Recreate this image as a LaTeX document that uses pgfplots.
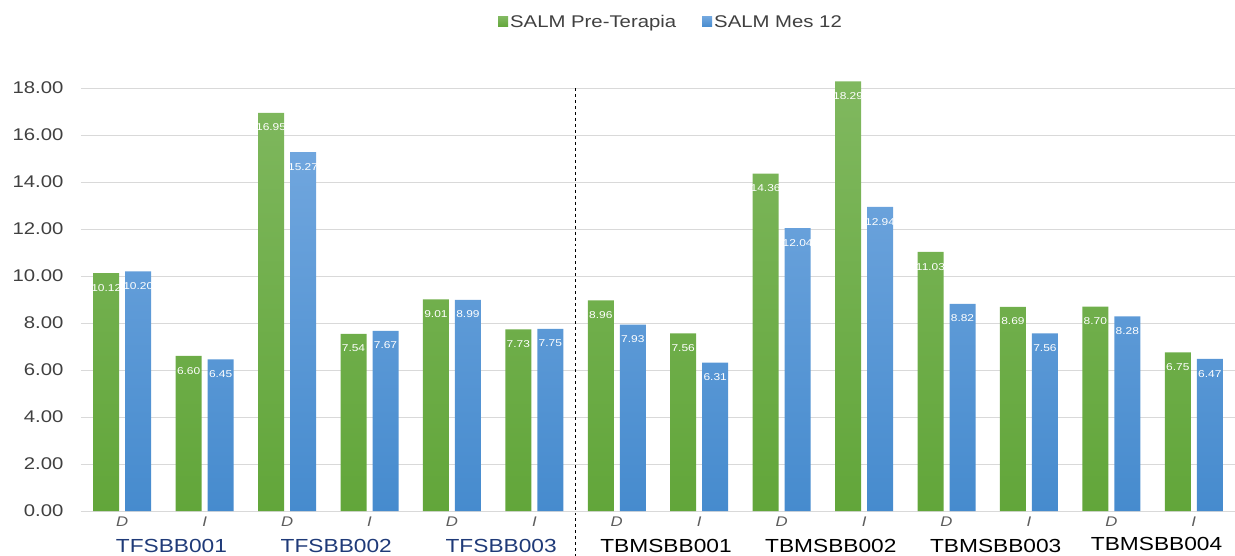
\documentclass[border=0pt]{standalone}
\usepackage{pgfplots}
\pgfplotsset{compat=1.18}
\usepackage{fontspec}
\setmainfont[FakeStretch=1.2]{Liberation Sans}
\definecolor{gTop}{HTML}{80B85F}
\definecolor{gBot}{HTML}{62A63A}
\definecolor{bTop}{HTML}{70A6DE}
\definecolor{bBot}{HTML}{468BCE}
\definecolor{gridc}{HTML}{D9D9D9}
\definecolor{tickc}{HTML}{404040}
\definecolor{navy}{HTML}{1F3A78}

\begin{document}
\begin{tikzpicture}
\begin{axis}[
  scale only axis,
  width=1154bp, height=437bp,
  ybar=6bp, bar width=26bp,
  ymin=0, ymax=18.6,
  xmin=-0.5, xmax=13.5,
  ytick={0,2,...,18},
  ymajorgrids,
  major grid style={gridc, line width=1bp},
  axis line style={draw=none},
  major tick length=0pt,
  clip=false,
  xtick=data,
  xticklabels={D,I,D,I,D,I,D,I,D,I,D,I,D,I},
  xticklabel style={font=\fontsize{14}{16}\selectfont\itshape, text=tickc!85, yshift=-2bp},
  yticklabel style={font=\fontsize{17}{20}\selectfont, text=tickc, xshift=-14bp},
  /pgf/number format/assume math mode=true,
  yticklabel={\pgfmathprintnumber[fixed,zerofill,precision=2]{\tick}},
  nodes near coords={\pgfmathprintnumber[fixed,zerofill,precision=2,assume math mode=true]{\pgfplotspointmeta}},
  every node near coord/.append style={anchor=north, yshift=-10bp, text=white, font=\fontsize{10}{11}\selectfont, inner sep=1bp},
  legend columns=2,
  legend style={draw=none, at={(0.5,1)}, anchor=center, yshift=52bp, xshift=13bp,
    font=\fontsize{17}{20}\selectfont, text=tickc,
    /tikz/every even column/.append style={column sep=24bp}},
  legend image code/.code={\fill[#1] (-3bp,-5bp) rectangle (7bp,5bp);},
]
\addplot[draw=none, top color=gTop, bottom color=gBot] coordinates {
  (0,10.12) (1,6.60) (2,16.95) (3,7.54) (4,9.01) (5,7.73) (6,8.96)
  (7,7.56) (8,14.36) (9,18.29) (10,11.03) (11,8.69) (12,8.70) (13,6.75)};
\addplot[draw=none, top color=bTop, bottom color=bBot] coordinates {
  (0,10.20) (1,6.45) (2,15.27) (3,7.67) (4,8.99) (5,7.75) (6,7.93)
  (7,6.31) (8,12.04) (9,12.94) (10,8.82) (11,7.56) (12,8.28) (13,6.47)};
\legend{SALM Pre-Terapia, SALM Mes 12}
\draw[black, dashed, line width=1bp] (axis cs:5.5,18) -- ([yshift=-45bp]axis cs:5.5,0);
\node[font=\fontsize{19}{22}\selectfont, text=navy] at ([xshift=8bp,yshift=-35bp]axis cs:0.5,0) {TFSBB001};
\node[font=\fontsize{19}{22}\selectfont, text=navy] at ([xshift=8bp,yshift=-35bp]axis cs:2.5,0) {TFSBB002};
\node[font=\fontsize{19}{22}\selectfont, text=navy] at ([xshift=8bp,yshift=-35bp]axis cs:4.5,0) {TFSBB003};
\node[font=\fontsize{19}{22}\selectfont] at ([xshift=8bp,yshift=-35bp]axis cs:6.5,0) {TBMSBB001};
\node[font=\fontsize{19}{22}\selectfont] at ([xshift=8bp,yshift=-35bp]axis cs:8.5,0) {TBMSBB002};
\node[font=\fontsize{19}{22}\selectfont] at ([xshift=8bp,yshift=-35bp]axis cs:10.5,0) {TBMSBB003};
\node[font=\fontsize{19}{22}\selectfont] at ([xshift=4bp,yshift=-33bp]axis cs:12.5,0) {TBMSBB004};
\end{axis}
\pgfresetboundingbox
\path (-81bp,-45bp) rectangle (1154bp,511bp);
\end{tikzpicture}
\end{document}
